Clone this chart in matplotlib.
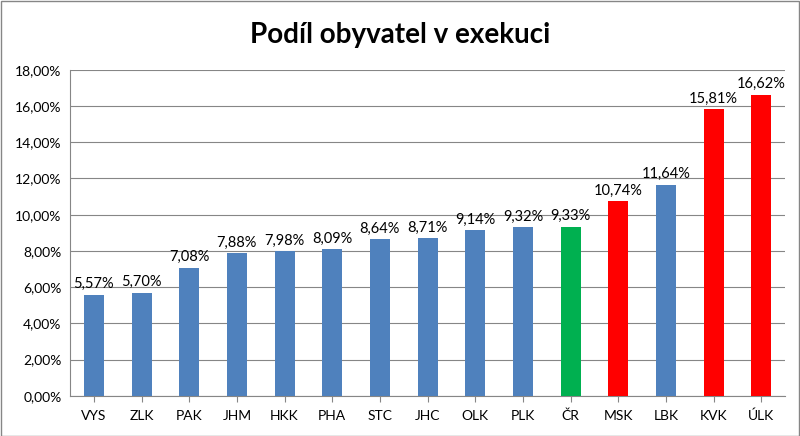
import matplotlib
matplotlib.use("Agg")
import matplotlib.pyplot as plt
from matplotlib.ticker import FuncFormatter, MultipleLocator

categories = ["VYS","ZLK","PAK","JHM","HKK","PHA","STC","JHC","OLK","PLK","ČR","MSK","LBK","KVK","ÚLK"]
values = [5.57,5.70,7.08,7.88,7.98,8.09,8.64,8.71,9.14,9.32,9.33,10.74,11.64,15.81,16.62]
kinds = ["b"]*10 + ["g","r","b","r","r"]
cmap = {"b":"#4F81BD","g":"#00B050","r":"#FF0000"}

plt.rcParams["font.family"] = "Lato"
fig = plt.figure(figsize=(8,4.36), dpi=100)
fig.patches.append(plt.Rectangle((0.001,0.001),0.998,0.997,transform=fig.transFigure,fill=False,edgecolor="#868686",lw=1))
ax = fig.add_axes([0.0875,0.092,0.894,0.748])
x = range(len(categories))
ax.bar(x, values, width=0.42, color=[cmap[k] for k in kinds], zorder=3)
for i,v in zip(x,values):
    ax.text(i, v+0.2, f"{v:.2f}%".replace(".",","), ha="center", va="bottom", fontsize=10.5)
ax.set_xlim(-0.5,len(categories)-0.5)
ax.set_ylim(0,18)
ax.yaxis.set_major_locator(MultipleLocator(2))
ax.yaxis.set_major_formatter(FuncFormatter(lambda v,p: f"{v:.2f}%".replace(".",",")))
ax.set_xticks(list(x))
ax.set_xticklabels(categories)
ax.grid(axis="y", color="#868686", lw=0.8, zorder=0)
for s in ["top","right"]:
    ax.spines[s].set_visible(False)
ax.spines["left"].set_color("#868686")
ax.spines["bottom"].set_color("#868686")
ax.tick_params(axis="both", labelsize=10, length=0, pad=6)
ax.tick_params(axis="x", length=4, color="#868686", direction="out")
fig.text(0.5,0.92,"Podíl obyvatel v exekuci", ha="center", va="center", fontsize=20, fontweight="bold")
fig.savefig("out.png", dpi=100)
